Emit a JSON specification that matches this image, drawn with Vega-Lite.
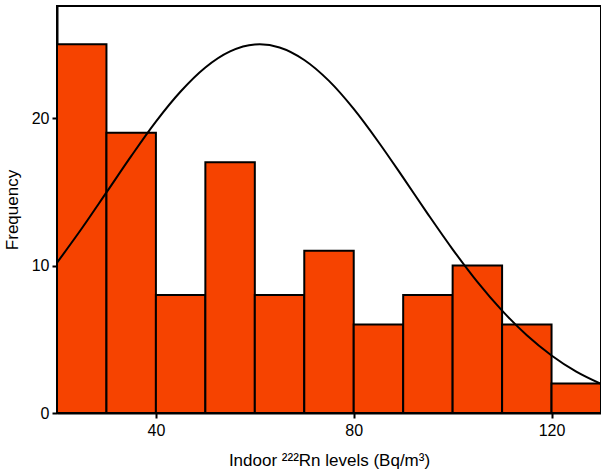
{
  "$schema": "https://vega.github.io/schema/vega-lite/v6.json",
  "autosize": "none",
  "width": 544,
  "height": 407,
  "padding": {"left": 57, "top": 6, "right": 0, "bottom": 61},
  "background": "white",
  "config": {
    "view": {"stroke": "black", "strokeWidth": 2},
    "font": "Liberation Sans",
    "axis": {"grid": false, "domainColor": "black", "domainWidth": 2, "tickColor": "black", "tickWidth": 2, "tickSize": 5, "labelColor": "black", "titleColor": "black", "labelFontSize": 16, "titleFontSize": 17, "titleFontWeight": "normal", "labelFont": "Liberation Sans", "titleFont": "Liberation Sans"}
  },
  "datasets": {
    "bars": [
      {"start": 20, "end": 30, "count": 25},
      {"start": 30, "end": 40, "count": 19},
      {"start": 40, "end": 50, "count": 8},
      {"start": 50, "end": 60, "count": 17},
      {"start": 60, "end": 70, "count": 8},
      {"start": 70, "end": 80, "count": 11},
      {"start": 80, "end": 90, "count": 6},
      {"start": 90, "end": 100, "count": 8},
      {"start": 100, "end": 110, "count": 10},
      {"start": 110, "end": 120, "count": 6},
      {"start": 120, "end": 130, "count": 2}
    ],
    "curve": [
      {"x": 20, "y": 10.19}, {"x": 25, "y": 12.51}, {"x": 30, "y": 14.96}, {"x": 35, "y": 17.42},
      {"x": 40, "y": 19.76}, {"x": 45, "y": 21.80}, {"x": 50, "y": 23.43}, {"x": 55, "y": 24.52},
      {"x": 60, "y": 24.99}, {"x": 61, "y": 25.0}, {"x": 65, "y": 24.79}, {"x": 70, "y": 23.94},
      {"x": 75, "y": 22.52}, {"x": 80, "y": 20.62}, {"x": 85, "y": 18.38}, {"x": 90, "y": 15.96},
      {"x": 95, "y": 13.49}, {"x": 100, "y": 11.10}, {"x": 105, "y": 8.89}, {"x": 110, "y": 6.94},
      {"x": 115, "y": 5.27}, {"x": 120, "y": 3.90}, {"x": 125, "y": 2.80}, {"x": 130, "y": 1.97}
    ]
  },
  "layer": [
    {
      "data": {"name": "bars"},
      "mark": {"type": "rect", "fill": "#f64300", "stroke": "black", "strokeWidth": 2},
      "encoding": {
        "x": {"field": "start", "type": "quantitative", "scale": {"domain": [20, 130], "nice": false, "zero": false},
              "axis": {"values": [40, 80, 120], "title": "Indoor ²²²Rn levels (Bq/m³)", "titlePadding": 14, "labelPadding": 4}},
        "x2": {"field": "end"},
        "y": {"field": "count", "type": "quantitative", "scale": {"domain": [0, 27.6], "nice": false},
              "axis": {"values": [0, 10, 20], "title": "Frequency", "titlePadding": 10, "labelPadding": 3}},
        "y2": {"datum": 0}
      }
    },
    {
      "data": {"name": "curve"},
      "mark": {"type": "line", "color": "black", "strokeWidth": 2, "interpolate": "monotone", "clip": true},
      "encoding": {
        "x": {"field": "x", "type": "quantitative"},
        "y": {"field": "y", "type": "quantitative"}
      }
    }
  ]
}
